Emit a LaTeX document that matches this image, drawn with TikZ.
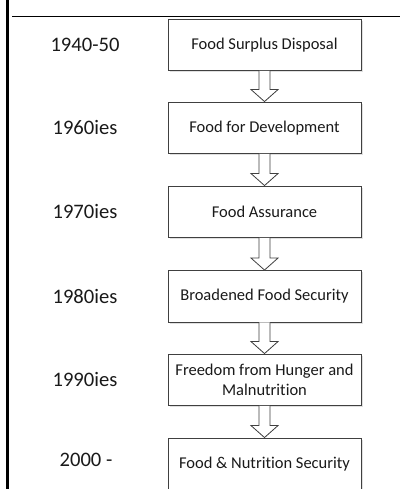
\documentclass[tikz,border=0pt]{standalone}
\usepackage{fontspec}
\setmainfont{Carlito}[Ligatures=NoCommon]
\usetikzlibrary{calc,shadows}

\definecolor{edge}{HTML}{404040}
\definecolor{ink}{HTML}{1A1A1A}

% block arrow from the bottom of one stage to the top of the next
\newcommand\stagearrow[2]{%
  \draw[blockarrow]
    ($(#1.south)+(-5.5,0)$) -- ($(#2.north)+(-5.5,-12)$)
    -- ($(#2.north)+(-13.5,-12)$) -- (#2.north)
    -- ($(#2.north)+(13.5,-12)$) -- ($(#2.north)+(5.5,-12)$)
    -- ($(#1.south)+(5.5,0)$);}

\begin{document}
\begin{tikzpicture}[x=1pt,y=-1pt,
  stagebox/.style={draw=edge, line width=0.9pt, fill=white,
    minimum width=193pt, minimum height=51.5pt, inner sep=0pt,
    align=center, text=ink, font=\fontsize{16.5}{20}\selectfont,
    drop shadow={shadow xshift=1.6pt, shadow yshift=-1.6pt, fill=black!12, opacity=1}},
  yearlabel/.style={text=ink, font=\fontsize{20.6}{24}\selectfont, inner sep=0pt},
  blockarrow/.style={draw=edge, line width=0.8pt, fill=white, line join=miter},
  frameline/.style={draw=black}]
\useasboundingbox (0,0) rectangle (400,489);
\clip (0,0) rectangle (400,489);
\fill[white] (0,0) rectangle (400,489);

% frame lines
\coordinate (ltop) at (7.5,0);
\coordinate (lbot) at (7.5,489);
\coordinate (hleft) at (12,16.5);
\coordinate (hright) at (400,16.5);
\draw[frameline, line width=2.2pt] (ltop) -- (lbot);
\draw[frameline, line width=1.4pt] (hleft) -- (hright);

% stages
\node[stagebox] (s1) at (264.5,44.75)  {Food Surplus Disposal};
\node[stagebox] (s2) at (264.5,127.75) {Food for Development};
\node[stagebox] (s3) at (264.5,211.75) {Food Assurance};
\node[stagebox] (s4) at (264.5,296.25) {Broadened Food Security};
\node[stagebox] (s5) at (264.5,379.75) {Freedom from Hunger and\\Malnutrition};
\node[stagebox] (s6) at (264.5,463.75) {Food \& Nutrition Security};

% periods
\node[yearlabel] (y1) at (85,44.75)  {1940-50};
\node[yearlabel] (y2) at (85,127.75) {1960ies};
\node[yearlabel] (y3) at (85,211.75) {1970ies};
\node[yearlabel] (y4) at (85,296.25) {1980ies};
\node[yearlabel] (y5) at (85,379.75) {1990ies};
\node[yearlabel] (y6) at (86,460)    {2000 -};

% arrows
\stagearrow{s1}{s2}
\stagearrow{s2}{s3}
\stagearrow{s3}{s4}
\stagearrow{s4}{s5}
\stagearrow{s5}{s6}
\end{tikzpicture}
\end{document}
